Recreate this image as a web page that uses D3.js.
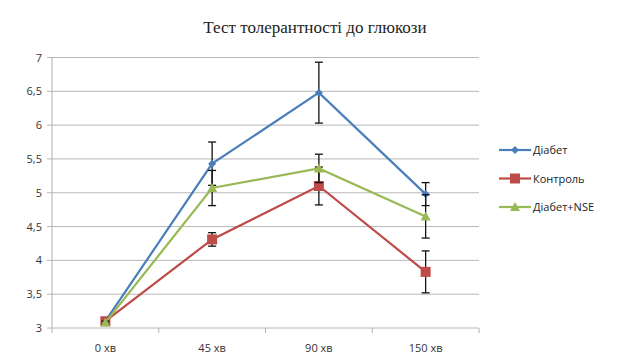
<!DOCTYPE html>
<html><head><meta charset="utf-8">
<script src="https://cdn.jsdelivr.net/npm/d3@7"></script>
<style>body{margin:0;background:#fff}svg{display:block}</style>
</head><body>
<script>
const categories = ["0 хв", "45 хв", "90 хв", "150 хв"];
const yTicks = [3, 3.5, 4, 4.5, 5, 5.5, 6, 6.5, 7];
const seriesNames = ["Діабет", "Контроль", "Діабет+NSE"];
const diabet = [3.1, 5.43, 6.48, 4.98];
const diabetErr = [0.02, 0.32, 0.45, 0.17];
const kontrol = [3.1, 4.31, 5.1, 3.83];
const kontrolErr = [0.02, 0.1, 0.28, 0.31];
const diabetNSE = [3.08, 5.07, 5.36, 4.65];
const diabetNSEErr = [0.02, 0.26, 0.21, 0.32];
const title = "Тест толерантності до глюкози";

(function () {
const series = [
  {name: seriesNames[0], values: diabet, err: diabetErr, color: "#4a7ebb", marker: "diamond"},
  {name: seriesNames[1], values: kontrol, err: kontrolErr, color: "#be4b48", marker: "square"},
  {name: seriesNames[2], values: diabetNSE, err: diabetNSEErr, color: "#98b954", marker: "triangle"}
];

const W = 627, H = 358;
const pLeft = 52, pRight = 479, pTop = 57.5, pBottom = 328;
const svg = d3.select("body").append("svg").attr("width", W).attr("height", H);

const x = d3.scaleBand().domain(categories).range([pLeft, pRight]);
const y = d3.scaleLinear().domain([3, 7]).range([pBottom, pTop]);

svg.append("g").selectAll("line").data(yTicks).join("line")
  .attr("x1", pLeft - 5).attr("x2", pRight)
  .attr("y1", d => y(d)).attr("y2", d => y(d))
  .attr("stroke", "#b8b8b8").attr("stroke-width", 1);

svg.append("line").attr("x1", pLeft).attr("x2", pLeft).attr("y1", pTop).attr("y2", pBottom)
  .attr("stroke", "#b0b0b0");

const bounds = categories.map(c => x(c)).concat([pRight]);
svg.append("g").selectAll("line").data(bounds).join("line")
  .attr("x1", d => d).attr("x2", d => d).attr("y1", pBottom).attr("y2", pBottom + 5)
  .attr("stroke", "#b0b0b0");

svg.append("g").selectAll("text").data(yTicks).join("text")
  .attr("x", 42).attr("y", d => y(d) + 4)
  .attr("text-anchor", "end")
  .attr("font-family", "Open Sans, Liberation Sans, sans-serif").attr("font-size", 11)
  .attr("fill", "#333")
  .text(d => String(d).replace(".", ","));

svg.append("g").selectAll("text").data(categories).join("text")
  .attr("x", d => x(d) + x.bandwidth() / 2).attr("y", 352)
  .attr("text-anchor", "middle")
  .attr("font-family", "Open Sans, Liberation Sans, sans-serif").attr("font-size", 11)
  .attr("fill", "#333")
  .text(d => d);

svg.append("text").attr("x", 315).attr("y", 33).attr("text-anchor", "middle")
  .attr("font-family", "Liberation Serif, DejaVu Serif, serif").attr("font-size", 17)
  .attr("fill", "#222").text(title);

const cx = (i) => x(categories[i]) + x.bandwidth() / 2;
const line = d3.line().x((d, i) => cx(i)).y(d => y(d));

function marker(g, type, color, px, py) {
  if (type === "diamond") {
    g.append("path").attr("d", `M${px},${py-4}L${px+4},${py}L${px},${py+4}L${px-4},${py}Z`).attr("fill", color);
  } else if (type === "square") {
    g.append("rect").attr("x", px - 5).attr("y", py - 5).attr("width", 10).attr("height", 10).attr("fill", color);
  } else {
    g.append("path").attr("d", `M${px},${py-5}L${px+5},${py+4}L${px-5},${py+4}Z`).attr("fill", color);
  }
}

series.forEach(s => {
  const g = svg.append("g");
  g.append("path").datum(s.values).attr("d", line).attr("fill", "none")
    .attr("stroke", s.color).attr("stroke-width", 2.2);
  s.values.forEach((v, i) => {
    const e = s.err[i];
    const px = cx(i);
    g.append("line").attr("x1", px).attr("x2", px).attr("y1", y(v + e)).attr("y2", y(v - e))
      .attr("stroke", "#111").attr("stroke-width", 1.3);
    [v + e, v - e].forEach(t => g.append("line").attr("x1", px - 4).attr("x2", px + 4)
      .attr("y1", y(t)).attr("y2", y(t)).attr("stroke", "#111").attr("stroke-width", 1.3));
  });
  s.values.forEach((v, i) => marker(g, s.marker, s.color, cx(i), y(v)));
});

series.forEach((s, i) => {
  const ly = 150 + i * 28.5;
  const g = svg.append("g");
  g.append("line").attr("x1", 499).attr("x2", 531).attr("y1", ly).attr("y2", ly)
    .attr("stroke", s.color).attr("stroke-width", 2.2);
  marker(g, s.marker, s.color, 515, ly);
  g.append("text").attr("x", 533).attr("y", ly + 4)
    .attr("font-family", "Open Sans, Liberation Sans, sans-serif").attr("font-size", 11)
    .attr("fill", "#222").text(s.name);
});
})();
</script>
</body></html>
